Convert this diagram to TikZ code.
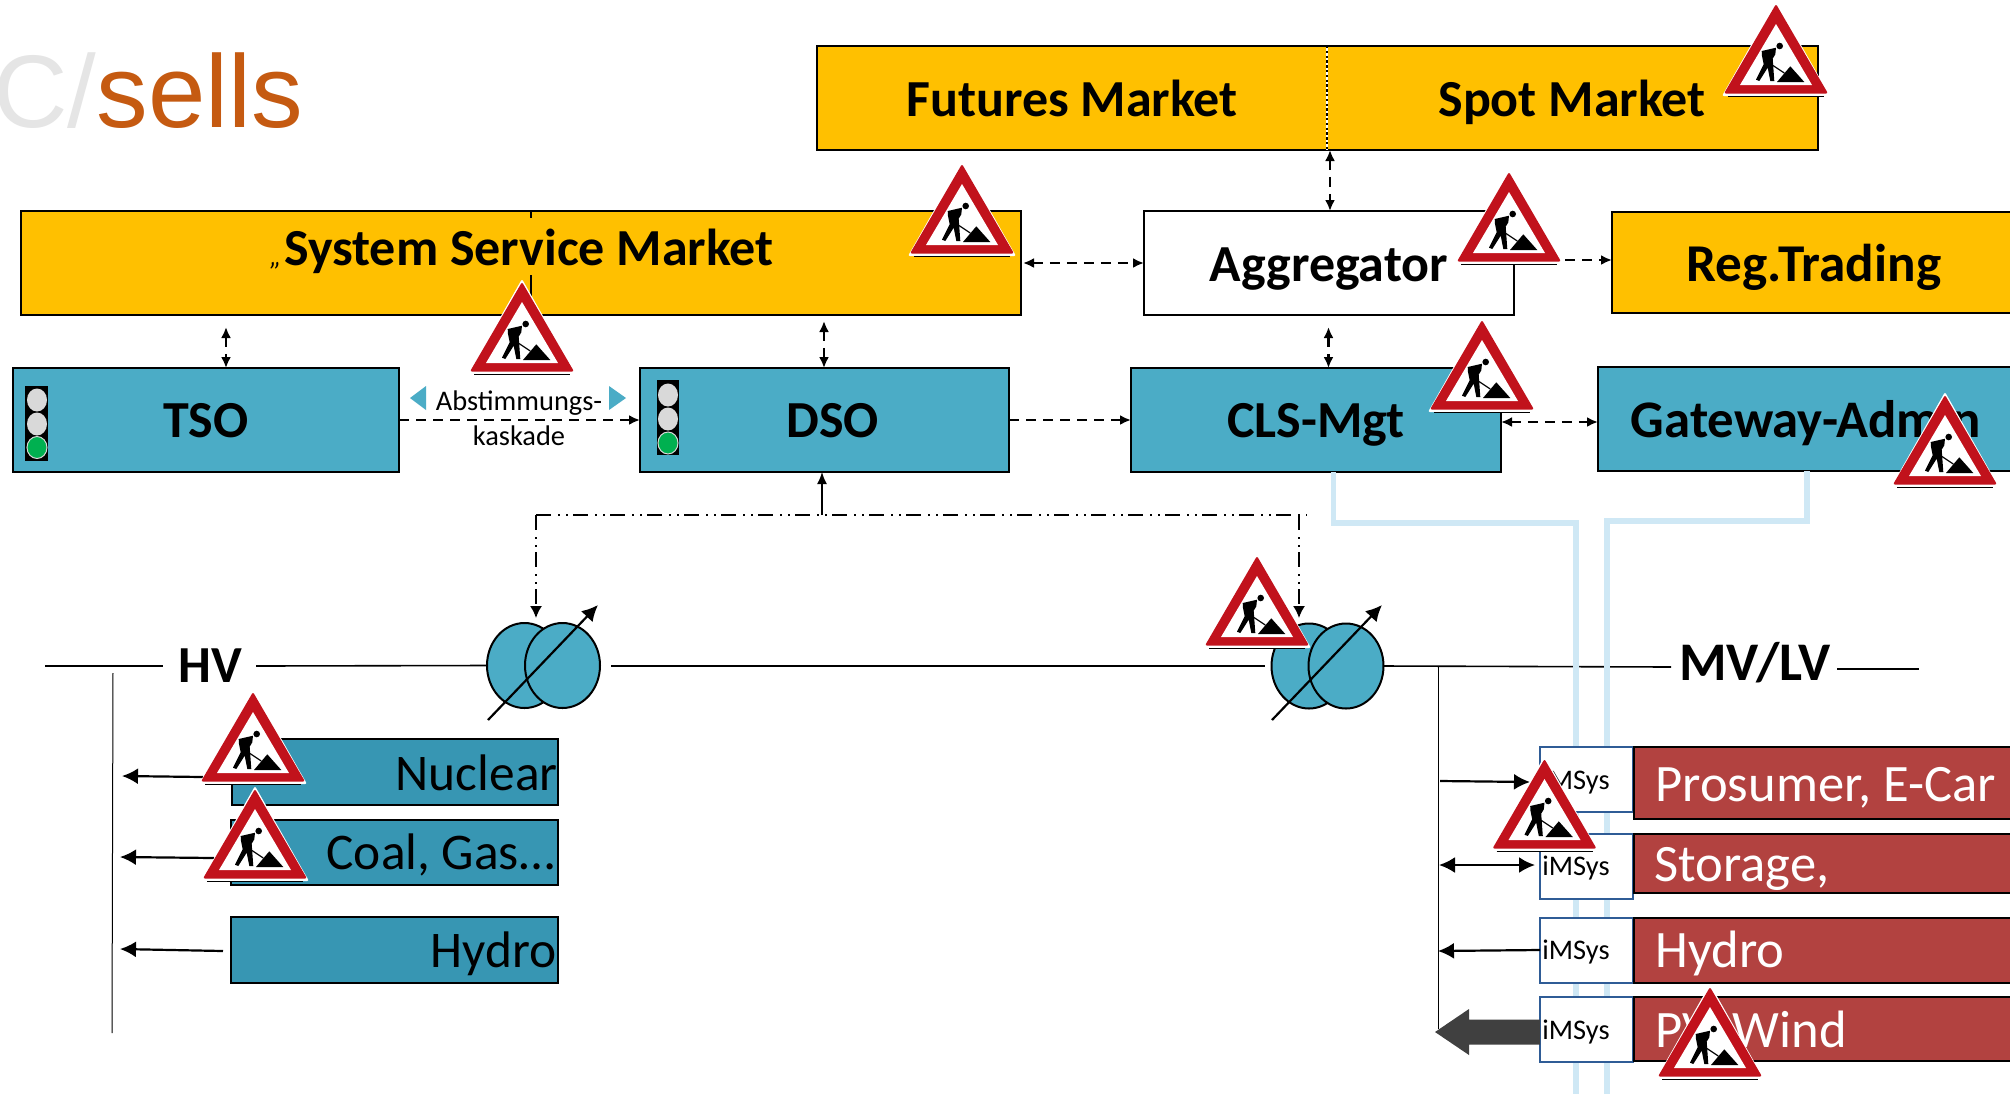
\documentclass[tikz,border=0pt]{standalone}
\usepackage{fontspec}
\setmainfont{Carlito}
\newfontfamily\arialf{Liberation Sans}
\usetikzlibrary{arrows.meta,shapes.geometric,calc}
\definecolor{myyellow}{HTML}{FFC000}
\definecolor{myblue}{HTML}{4BACC6}
\definecolor{mydark}{HTML}{3796B3}
\definecolor{myred}{HTML}{B24240}
\definecolor{mylight}{HTML}{CFE8F5}
\definecolor{mysign}{HTML}{C1121C}
\definecolor{myframe}{HTML}{2F5C96}
\definecolor{myorange}{HTML}{C55A11}
\definecolor{myarrow}{HTML}{404040}
\definecolor{mygreen}{HTML}{00B050}
\newcommand{\bx}[6]{%
  \pgfmathsetmacro{\bw}{(#5-#3)*0.5}\pgfmathsetmacro{\bh}{(#6-#4)*0.5}%
  \node[#2,minimum width=\bw pt,minimum height=\bh pt] (#1) at ({(#3+#5)/2},{(#4+#6)/2}) {};}
\tikzset{
  frame/.style={draw=black,line width=0.8pt,inner sep=0pt,outer sep=0pt,rectangle},
  yellowbox/.style={frame,fill=myyellow},
  bluebox/.style={frame,fill=myblue},
  darkbox/.style={frame,fill=mydark},
  redbox/.style={frame,fill=myred},
  whitebox/.style={frame,fill=white},
  msysbox/.style={frame,draw=myframe,fill=white},
  boldlab/.style={font=\fontsize{26}{26}\selectfont\bfseries,inner sep=0pt,anchor=base},
  reglab/.style={font=\fontsize{25.7}{25.7}\selectfont,inner sep=0pt,anchor=base},
  whitelab/.style={font=\fontsize{26.3}{26.3}\selectfont,inner sep=0pt,anchor=base west,text=white},
  msyslab/.style={font=\fontsize{14.2}{14.2}\selectfont,inner sep=0pt,anchor=base west},
  dashconn/.style={line width=1.1pt,dash pattern=on 5pt off 3.5pt,-{Latex[length=5.5pt,width=5pt]}},
  dashboth/.style={dashconn,{Latex[length=5.5pt,width=5pt]}-{Latex[length=5.5pt,width=5pt]}},
  ctrl/.style={line width=0.8pt,dash pattern=on 7.5pt off 3.5pt on 1pt off 3pt on 1pt off 2.5pt},
  solidarr/.style={line width=1.1pt,-{Latex[length=8pt,width=8pt]}},
  bus/.style={line width=0.8pt},
  lightline/.style={mylight,line width=2.8pt},
  winding/.style={draw=black,line width=1pt,fill=myblue},
  lamp/.style={fill=black!15,draw=none},
  warn/.pic={
    \fill[white,rounded corners=1pt] (0,-5) -- (-54,90) -- (54,90) -- cycle;
    \draw[black,line width=0.5pt] (-48,90) -- (48,90);
    \fill[mysign,rounded corners=1pt] (0,-2) -- (-52,87.5) -- (52,87.5) -- cycle;
    \fill[white] (0,18) -- (-36,79) -- (36,79) -- cycle;
    \fill[black] (3.7,40) circle[radius=3.3];
    \fill[black] (-14.3,45) -- (0,41.7) -- (-0.7,48.3) -- (-3.3,52.7) -- (-1.7,75) -- (-5.7,75)
       -- (-8.3,61.7) -- (-16.7,75) -- (-20,73.7) -- (-12.3,58.3) -- (-14,50) -- cycle;
    \draw[black,line width=0.6pt] (-12,47.7) -- (-8.3,56) -- (8.3,67);
    \fill[black] (1,76) -- (14.3,60.3) -- (28.3,76) -- cycle;
  }
}
\begin{document}
\begin{tikzpicture}[x=0.5pt,y=-0.5pt]
\useasboundingbox (0,0) rectangle (2010,1094);
\clip (0,0) rectangle (2010,1094);
\fill[white] (0,0) rectangle (2010,1094);

% title
\node[anchor=base west,inner sep=0pt,font=\arialf\fontsize{51.6}{51.6}\selectfont] (title) at (-7,127)
  {\textcolor{black!10}{C/}\textcolor{myorange}{sells}};

% buses behind the light lines
\coordinate (hvA) at (45,666); \coordinate (hvB) at (163,666);
\coordinate (hvC) at (256,666);
\coordinate (mvEnd) at (1671,667);
\coordinate (mvA) at (1837,669); \coordinate (mvB) at (1919,669);

% boxes upper
\bx{markets}{yellowbox}{817}{46}{1818}{150}
\bx{ssm}{yellowbox}{21}{211}{1021}{315}
\bx{agg}{whitebox}{1144}{211}{1514}{315}
\bx{reg}{yellowbox}{1612}{212}{2040}{313}
\bx{tso}{bluebox}{13}{368}{399}{472}
\bx{dso}{bluebox}{640}{368}{1009}{472}
\bx{cls}{bluebox}{1131}{368}{1501}{472}
\bx{gw}{bluebox}{1598}{367}{2040}{471}

% dividers
\draw[white,line width=0.8pt] (markets.north -| 1327,0) -- (markets.south -| 1327,0);
\draw[black,line width=0.8pt,dash pattern=on 1.2pt off 1.2pt] (markets.north -| 1327,0) -- (markets.south -| 1327,0);
\draw[line width=0.7pt] (ssm.north -| 531,0) -- (531,218);
\draw[line width=0.7pt] (531,275) -- (ssm.south -| 531,0);

% transformers
\node[ellipse,winding,minimum width=37.5pt,minimum height=42.5pt,inner sep=0pt,outer sep=0pt] (t1a) at (524.5,665.5) {};
\node[ellipse,winding,minimum width=37.5pt,minimum height=42.5pt,inner sep=0pt,outer sep=0pt] (t1b) at (562.5,665.5) {};
\node[ellipse,winding,minimum width=37.5pt,minimum height=42.5pt,inner sep=0pt,outer sep=0pt] (t2a) at (1309,666) {};
\node[ellipse,winding,minimum width=37.5pt,minimum height=42.5pt,inner sep=0pt,outer sep=0pt] (t2b) at (1346,666) {};
\coordinate (t1s) at (488,720); \coordinate (t1e) at (598,605);
\coordinate (t2s) at (1272,720); \coordinate (t2e) at (1382,605);
\draw[solidarr] (t1s) -- (t1e);
\draw[solidarr] (t2s) -- (t2e);

% buses
\draw[bus] (hvA) -- (hvB);
\draw[bus] (hvC) -- (t1a.west);
\coordinate (busR) at (611,666); \coordinate (busRe) at (1265,666);
\draw[bus] (busR) -- (busRe);
\draw[bus] (t2b.east) -- (mvEnd);
\draw[bus] (mvA) -- (mvB);
\coordinate (hvtop) at (113,673); \coordinate (hvbot) at (112,1033);
\draw[line width=0.5pt] (hvtop) -- (hvbot);
\coordinate (mvtop) at (1438,666); \coordinate (mvbot) at (1438,1029);
\draw[line width=0.5pt] (mvtop) -- (mvbot);

% light lines
\draw[lightline] (cls.south -| 1333.5,0) -- (1333.5,523) -- (1576,523) -- (1576,1094);
\draw[lightline] (gw.south -| 1807,0) -- (1807,521) -- (1607,521) -- (1607,1094);

% boxes lower
\bx{nuc}{darkbox}{232}{739}{558}{805}
\bx{coal}{darkbox}{231}{820}{558}{885}
\bx{hydl}{darkbox}{231}{917}{558}{983}
\bx{m1}{msysbox}{1540}{747}{1633}{812}
\bx{m2}{msysbox}{1540}{834}{1633}{899}
\bx{m3}{msysbox}{1540}{918}{1633}{983}
\bx{m4}{msysbox}{1540}{997}{1633}{1062}
\bx{r1}{redbox}{1634}{747}{2040}{819}
\bx{r2}{redbox}{1634}{834}{2040}{893}
\bx{r3}{redbox}{1634}{918}{2040}{983}
\bx{r4}{redbox}{1634}{997}{2040}{1061}

% traffic lights
\fill[black] (25,386) rectangle (47.5,461);
\fill[lamp] (37,400) ellipse[x radius=10,y radius=11.5];
\fill[lamp] (37,424) ellipse[x radius=10,y radius=11.5];
\filldraw[draw=black!15,line width=0.5pt,fill=mygreen] (37,447.5) ellipse[x radius=10,y radius=11];
\fill[black] (657,380) rectangle (679,455);
\fill[lamp] (668,395) ellipse[x radius=10,y radius=11.5];
\fill[lamp] (668,419) ellipse[x radius=10,y radius=11.5];
\filldraw[draw=black!15,line width=0.5pt,fill=mygreen] (668,443) ellipse[x radius=10,y radius=11];

% cyan markers
\fill[myblue] (410,398) -- (426,386) -- (426,410) -- cycle;
\fill[myblue] (626,398) -- (609,386) -- (609,410) -- cycle;

% dashed connectors
\coordinate (tsoUp) at (226,327);
\draw[dashboth] (tsoUp) -- (tso.north -| tsoUp);
\coordinate (dsoUp) at (824,321);
\draw[dashboth] (dsoUp) -- (dso.north -| dsoUp);
\coordinate (aggMid) at (1330,0);
\draw[dashboth] (markets.south -| aggMid) -- (agg.north -| aggMid);
\coordinate (clsUp) at (1328.5,327);
\draw[dashboth] (clsUp) -- (cls.north -| clsUp);
\coordinate (ssmR) at (1023,263);
\draw[dashboth] (ssmR) -- (agg.west |- ssmR);
\coordinate (aggR) at (1514,260);
\draw[dashconn] (aggR) -- (reg.west |- aggR);
\coordinate (tsoR) at (399,420);
\draw[dashconn] (tsoR) -- (dso.west |- tsoR);
\coordinate (dsoR) at (1009,420);
\draw[dashconn] (dsoR) -- (cls.west |- dsoR);
\coordinate (clsR) at (1501,422);
\draw[dashboth] (clsR) -- (gw.west |- clsR);

% control lines
\coordinate (ctlL) at (536,515); \coordinate (ctlR) at (1299,515); \coordinate (ctlM) at (822,515);
\coordinate (ctlLe) at (536,618); \coordinate (ctlRe) at (1299,618);
\draw[ctrl] (ctlL) -- (1307,515);
\draw[ctrl,-{Latex[length=6pt,width=6pt]}] (ctlL) -- (ctlLe);
\draw[ctrl,-{Latex[length=6pt,width=6pt]}] (ctlR) -- (ctlRe);
\draw[line width=0.8pt,-{Latex[length=6pt,width=5pt]}] (ctlM) -- (ctlM |- dso.south);

% solid arrows
\coordinate (a1) at (203,777); \coordinate (a1e) at (122,776);
\coordinate (a2) at (214,858); \coordinate (a2e) at (120,857);
\coordinate (a3) at (223,951); \coordinate (a3e) at (120,949);
\draw[solidarr] (a1) -- (a1e);
\draw[solidarr] (a2) -- (a2e);
\draw[solidarr] (a3) -- (a3e);
\coordinate (b1) at (1440,781); \coordinate (b1e) at (1530,782);
\coordinate (b2) at (1439,865); \coordinate (b2e) at (1535,865);
\coordinate (b3e) at (1438,951);
\draw[solidarr] (b1) -- (b1e);
\draw[solidarr,{Latex[length=8pt,width=8pt]}-{Latex[length=8pt,width=8pt]}] (b2) -- (b2e);
\draw[solidarr] (m3.west |- 0,950) -- (b3e);
\fill[myarrow] (m4.west |- 0,1019.5) -- (1469,1019.5) -- (1469,1009) -- (1435,1032) -- (1469,1055) -- (1469,1044.5) -- (m4.west |- 0,1044.5) -- cycle;

% labels
\node[boldlab] (lFut) at (1072,116) {Futures Market};
\node[boldlab] (lSpot) at (1572,116) {Spot Market};
\node[boldlab] (lSsm) at (529,265) {System Service Market};
\node[inner sep=0pt,anchor=base east,font=\fontsize{14}{14}\selectfont\itshape] (lQuote) at ([xshift=-1pt]lSsm.base west) {„};
\node[boldlab] (lAgg) at (1329,281) {Aggregator};
\node[boldlab,font=\fontsize{26.6}{26.6}\selectfont\bfseries] (lReg) at (1814,281) {Reg.Trading};
\node[boldlab] (lTso) at (206,437) {TSO};
\node[boldlab] (lDso) at (832.5,437) {DSO};
\node[boldlab] (lCls) at (1316,437) {CLS-Mgt};
\node[boldlab,font=\fontsize{26.4}{26.4}\selectfont\bfseries] (lGw) at (1806,437) {Gateway-Admin};
\node[boldlab] (lHv) at (210,682) {HV};
\node[boldlab,font=\fontsize{27.2}{27.2}\selectfont\bfseries] (lMv) at (1755,680) {MV/LV};
\node[align=center,inner sep=0pt,anchor=center,font=\fontsize{14.2}{17.5}\selectfont] (lAb) at (519,418) {Abstimmungs-\\kaskade};
\node[reglab,anchor=base east] (lNuc) at (558,790) {Nuclear};
\node[reglab,anchor=base east] (lCoal) at (555,869) {Coal, Gas…};
\node[reglab,anchor=base east] (lHy) at (557,967) {Hydro};
\node[whitelab] (lP) at (1655,801) {Prosumer, E-Car};
\node[whitelab] (lS) at (1654,881) {Storage,};
\node[whitelab] (lH) at (1655,967.5) {Hydro};
\node[whitelab] (lW) at (1655,1047) {PV, Wind};
\node[msyslab] (l1) at (1542,789) {iMSys};
\node[msyslab] (l2) at (1542,875) {iMSys};
\node[msyslab] (l3) at (1542,959.5) {iMSys};
\node[msyslab] (l4) at (1542,1039) {iMSys};

% signs
\pic at (1776,6) {warn};
\pic at (962,166) {warn};
\pic at (522,284) {warn};
\pic at (1509,174) {warn};
\pic at (1482,322) {warn};
\pic at (1945,397) {warn};
\pic at (253,694) {warn};
\pic at (255,791) {warn};
\pic at (1257,558) {warn};
\pic at (1544.5,761) {warn};
\pic at (1710,989) {warn};
\end{tikzpicture}
\end{document}
